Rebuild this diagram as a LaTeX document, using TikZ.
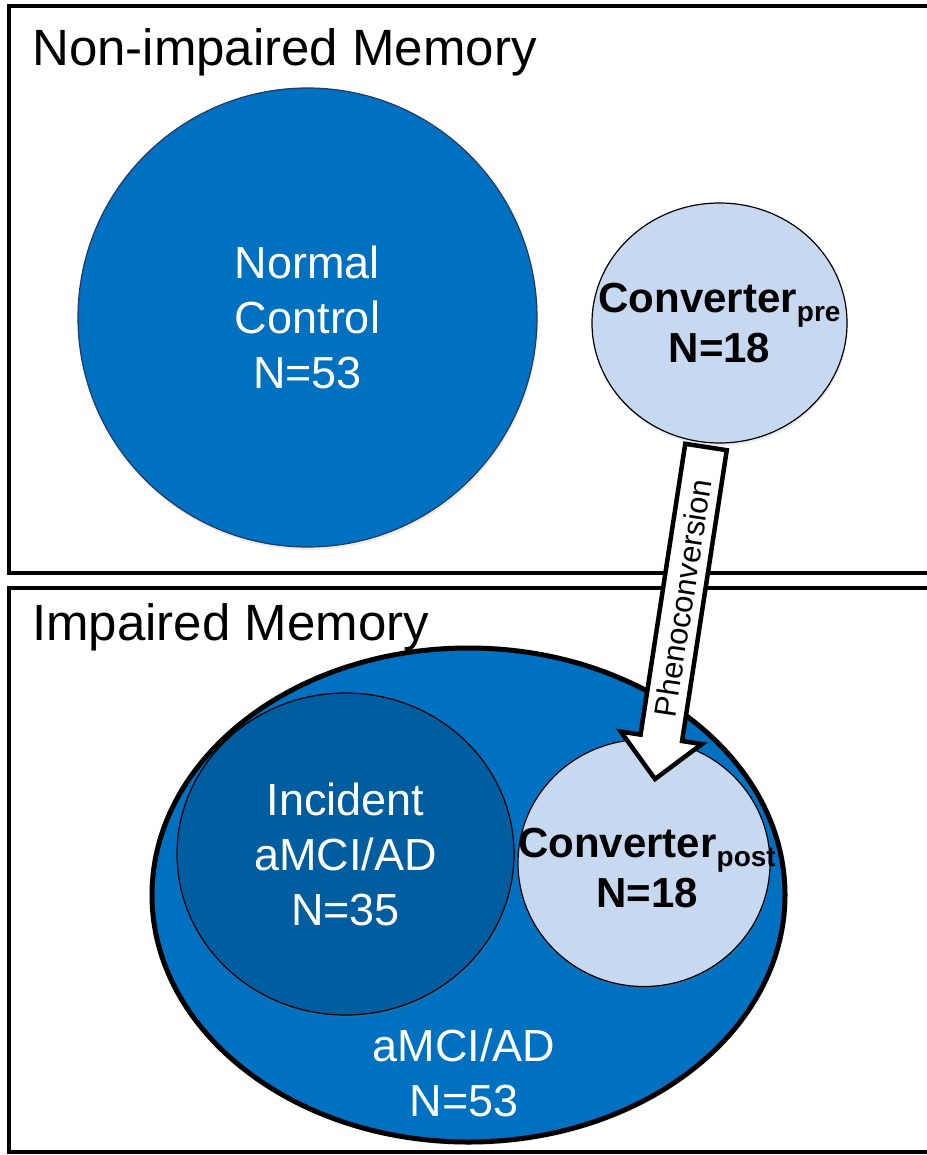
\documentclass[tikz,border=0pt]{standalone}
\usepackage{fontspec}
\setmainfont{Liberation Sans}
\usepackage{xcolor}
\usetikzlibrary{shapes.geometric, calc, shadows}
\definecolor{memblue}{HTML}{0070C0}
\definecolor{incblue}{HTML}{005DA0}
\definecolor{convblue}{HTML}{C6D9F1}
\definecolor{ncedge}{HTML}{1F3A68}
\newcommand{\subtxt}[1]{\raisebox{-9pt}{\fontsize{28}{28}\selectfont #1}}
\tikzstyle{panel} = [draw, line width=4.5pt]
\tikzstyle{title} = [anchor=base west, inner sep=0pt, font=\fontsize{51}{60}\selectfont]
\tikzstyle{blob} = [ellipse, inner sep=0pt, line width=1.2pt, drop shadow={opacity=0.15, shadow xshift=1pt, shadow yshift=-3pt}]
\tikzstyle{whitetext} = [text=white, align=center, font=\fontsize{45}{55}\selectfont]
\tikzstyle{boldtext} = [align=center, font=\bfseries\fontsize{42}{50}\selectfont]

\begin{document}
\begin{tikzpicture}[x=1pt, y=-1pt]
    \useasboundingbox (0,0) rectangle (926,1155);
    % Panels
    \draw [panel] (9,6) rectangle (940,573);
    \draw [panel] (9,588) rectangle (940,1152);
    % Groups
    \node [blob, fill=memblue, draw=ncedge, minimum width=459pt, minimum height=459pt] (normal) at (307.5,317.5) {};
    \node [blob, fill=convblue, draw, minimum width=255pt, minimum height=240pt] (pre) at (719.5,323) {};
    \node [blob, fill=memblue, draw, line width=5pt, minimum width=633pt, minimum height=494pt] (amci) at (468.5,895) {};
    \node [blob, fill=incblue, draw, minimum width=337pt, minimum height=322pt] (incident) at (345.5,854) {};
    \node [blob, fill=convblue, draw, minimum width=252pt, minimum height=247pt] (post) at (644,863) {};
    % Labels
    \node [whitetext] (normaltext) at (normal) {Normal\\Control\\N=53};
    \node [boldtext] (pretext) at (pre) {Converter\subtxt{pre}\\N=18};
    \node [whitetext] (incidenttext) at (incident) {Incident\\aMCI/AD\\N=35};
    \node [boldtext] (posttext) at (647,868) {Converter\subtxt{post}\\N=18};
    \node [whitetext] (amcitext) at (464,1073) {aMCI/AD\\N=53};
    % Phenoconversion arrow
    \coordinate (pstart) at (706,447);
    \coordinate (ptip) at (655,779);
    \coordinate (phead) at ($(pstart)!0.876!(ptip)$);
    \draw [line width=4.5pt, fill=white, line join=miter]
        ($(pstart)!21pt!-90:(ptip)$) -- ($(phead)!21pt!-90:(ptip)$) -- ($(phead)!41pt!-90:(ptip)$)
        -- (ptip) -- ($(phead)!41pt!90:(ptip)$) -- ($(phead)!21pt!90:(ptip)$) -- ($(pstart)!21pt!90:(ptip)$) -- cycle;
    \node [rotate=81.3, font=\fontsize{31}{31}\selectfont] (phenotext) at ($(pstart)!0.455!(ptip)$) {Phenoconversion};
    % Titles
    \node [title] (nonimp) at (32,66) {Non-impaired Memory};
    \node [title] (imp) at (32,640) {Impaired Memory};
\end{tikzpicture}
\end{document}
